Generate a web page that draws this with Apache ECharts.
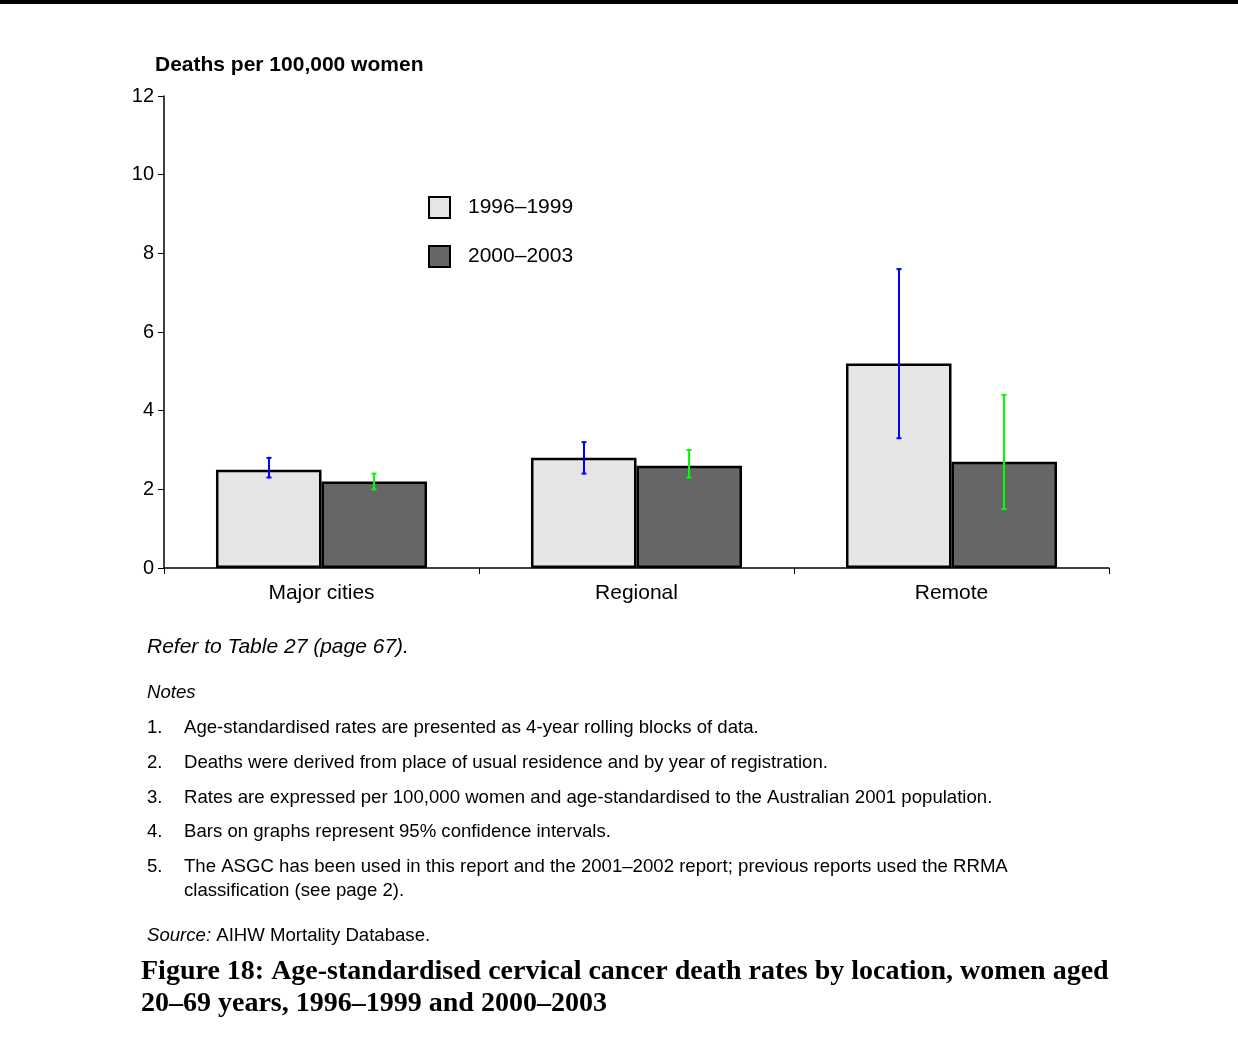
<!DOCTYPE html>
<html>
<head>
<meta charset="utf-8">
<script src="https://cdn.jsdelivr.net/npm/echarts@6/dist/echarts.min.js"></script>
<style>
  html, body { margin: 0; padding: 0; background: #fff; }
  #chart { width: 1238px; height: 1051px; }
</style>
</head>
<body>
<div id="chart"></div>
<script>
// Locations and age-standardised death rates (per 100,000 women)
const categories = ['Major cities', 'Regional', 'Remote'];
const seriesNames = ['1996\u20131999', '2000\u20132003'];
const rates1996 = [2.5, 2.8, 5.2];
const rates2000 = [2.2, 2.6, 2.7];
// 95% confidence intervals [lower, upper]
const ci1996 = [[2.3, 2.8], [2.4, 3.2], [3.3, 7.6]];
const ci2000 = [[2.0, 2.4], [2.3, 3.0], [1.5, 4.4]];
const yTicks = { min: 0, max: 12, interval: 2 };

const notes = [
  ['1.', 'Age-standardised rates are presented as 4-year rolling blocks of data.'],
  ['2.', 'Deaths were derived from place of usual residence and by year of registration.'],
  ['3.', 'Rates are expressed per 100,000 women and age-standardised to the Australian 2001 population.'],
  ['4.', 'Bars on graphs represent 95% confidence intervals.'],
  ['5.', 'The ASGC has been used in this report and the 2001\u20132002 report; previous reports used the RRMA\nclassification (see page 2).']
];

const SANS = '"Liberation Sans", Arial, sans-serif';
const SERIF = '"Liberation Serif", "Times New Roman", serif';

const chart = echarts.init(document.getElementById('chart'), null, { renderer: 'canvas' });

// Whisker drawn at the centre of the bar belonging to series `side` (0 = left, 1 = right)
function errorBarRenderer(side, color) {
  return function (params, api) {
    const idx = api.value(0);
    const lo = api.coord([idx, api.value(1)]);
    const hi = api.coord([idx, api.value(2)]);
    const band = api.size([1, 0])[0];
    const x = lo[0] + (side === 0 ? -band / 6 : band / 6);
    const cap = 2.5;
    const st = { stroke: color, lineWidth: 2 };
    return {
      type: 'group',
      children: [
        { type: 'line', shape: { x1: x, y1: lo[1], x2: x, y2: hi[1] }, style: st },
        { type: 'line', shape: { x1: x - cap, y1: lo[1], x2: x + cap, y2: lo[1] }, style: st },
        { type: 'line', shape: { x1: x - cap, y1: hi[1], x2: x + cap, y2: hi[1] }, style: st }
      ]
    };
  };
}

const NOTE_FONT = '18.6px ' + SANS;
const noteTexts = [];
const noteYs = [726, 761, 796, 830, 865];
notes.forEach(function (n, i) {
  noteTexts.push({
    type: 'text', left: 147, top: noteYs[i] - 10,
    style: { text: n[0], font: NOTE_FONT, fill: '#000', lineHeight: 24 }
  });
  noteTexts.push({
    type: 'text', left: 184, top: noteYs[i] - 10,
    style: { text: n[1], font: NOTE_FONT, fill: '#000', lineHeight: 24 }
  });
});

const option = {
  animation: false,
  backgroundColor: '#fff',
  grid: { left: 164, right: 129, top: 96, bottom: 483 },
  legend: {
    data: seriesNames,
    orient: 'vertical',
    left: 428,
    top: 196,
    padding: 0,
    itemWidth: 21,
    itemHeight: 21,
    itemGap: 26,
    icon: 'rect',
    textStyle: { fontFamily: SANS, fontSize: 21, color: '#000', padding: [0, 0, 0, 13] },
    selectedMode: false
  },
  xAxis: {
    type: 'category',
    data: categories,
    axisLine: { lineStyle: { color: '#000', width: 1.5 } },
    axisTick: { show: true, length: 6, alignWithLabel: false, lineStyle: { color: '#000', width: 1 } },
    axisLabel: { fontFamily: SANS, fontSize: 21, color: '#000', margin: 15 },
    splitLine: { show: false }
  },
  yAxis: {
    type: 'value',
    min: yTicks.min,
    max: yTicks.max,
    interval: yTicks.interval,
    axisLine: { show: true, lineStyle: { color: '#000', width: 1.5 } },
    axisTick: { show: true, length: 6, lineStyle: { color: '#000', width: 1 } },
    axisLabel: { fontFamily: SANS, fontSize: 20, color: '#000', margin: 10 },
    splitLine: { show: false }
  },
  series: [
    {
      name: seriesNames[0], type: 'bar', data: rates1996,
      barGap: '0%', barCategoryGap: '33%',
      itemStyle: { color: '#e5e5e5', borderColor: '#000', borderWidth: 2.5 }
    },
    {
      name: seriesNames[1], type: 'bar', data: rates2000,
      barGap: '0%', barCategoryGap: '33%',
      itemStyle: { color: '#666666', borderColor: '#000', borderWidth: 2.5 }
    },
    {
      type: 'custom', name: 'ci1996', z: 10,
      renderItem: errorBarRenderer(0, '#0000ff'),
      encode: { x: 0, y: [1, 2] },
      data: ci1996.map(function (c, i) { return [i, c[0], c[1]]; })
    },
    {
      type: 'custom', name: 'ci2000', z: 10,
      renderItem: errorBarRenderer(1, '#00ff00'),
      encode: { x: 0, y: [1, 2] },
      data: ci2000.map(function (c, i) { return [i, c[0], c[1]]; })
    }
  ],
  graphic: [
    { type: 'rect', left: 0, top: 0, shape: { width: 1238, height: 4 }, style: { fill: '#000' } },
    {
      type: 'text', left: 155, top: 55,
      style: { text: 'Deaths per 100,000 women', font: 'bold 21px ' + SANS, fill: '#000' }
    },
    {
      type: 'text', left: 147, top: 637,
      style: { text: 'Refer to Table 27 (page 67).', font: 'italic 21px ' + SANS, fill: '#000' }
    },
    {
      type: 'text', left: 147, top: 683,
      style: { text: 'Notes', font: 'italic 18.6px ' + SANS, fill: '#000' }
    }
  ].concat(noteTexts).concat([
    {
      type: 'text', left: 147, top: 926,
      style: {
        text: '{i|Source:} AIHW Mortality Database.',
        font: '18.6px ' + SANS, fill: '#000',
        rich: { i: { fontStyle: 'italic', fontFamily: SANS, fontSize: 18.6 } }
      }
    },
    {
      type: 'text', left: 141, top: 956,
      style: {
        text: 'Figure 18: Age-standardised cervical cancer death rates by location, women aged\n20\u201369 years, 1996\u20131999 and 2000\u20132003',
        font: 'bold 28px ' + SERIF, fill: '#000', lineHeight: 32
      }
    }
  ])
};

chart.setOption(option);
</script>
</body>
</html>
